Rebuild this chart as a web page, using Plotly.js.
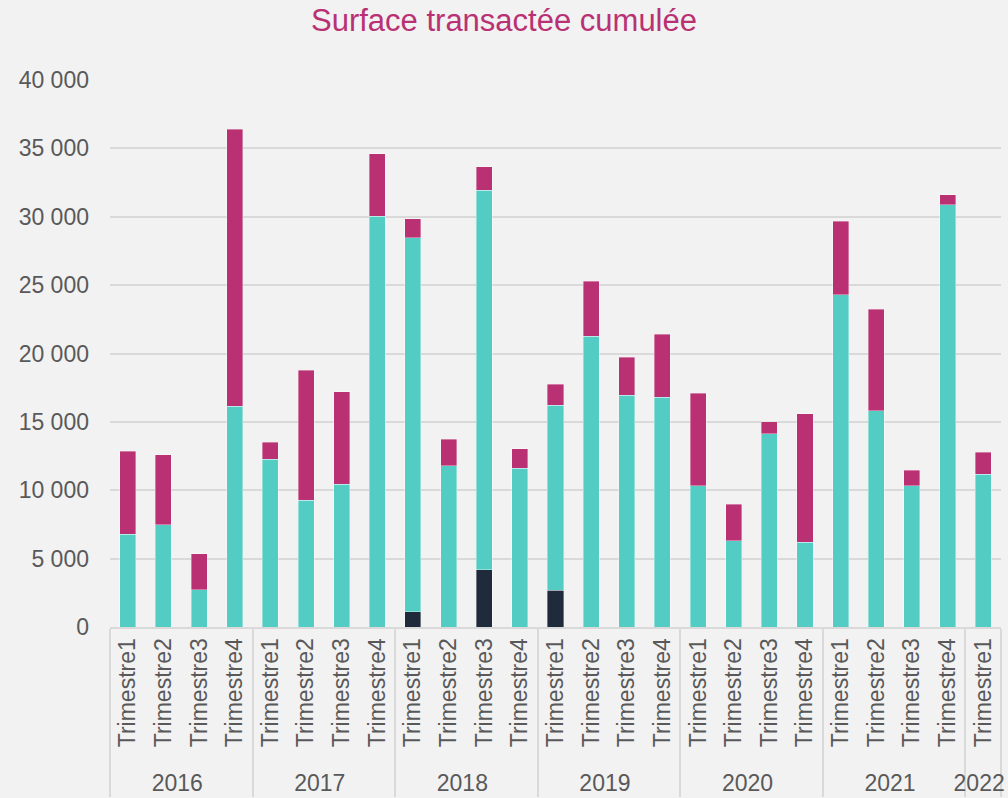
<!DOCTYPE html>
<html>
<head>
<meta charset="utf-8">
<script src="https://cdn.plot.ly/plotly-3.0.1.min.js"></script>
<style>html,body{margin:0;padding:0;background:#f2f2f2;}#chart{width:1008px;height:798px;}</style>
</head>
<body>
<div id="chart"></div>
<script>
const years = ["2016","2016","2016","2016","2017","2017","2017","2017","2018","2018","2018","2018","2019","2019","2019","2019","2020","2020","2020","2020","2021","2021","2021","2021","2022"];
const quarters = ["Trimestre1","Trimestre2","Trimestre3","Trimestre4","Trimestre1","Trimestre2","Trimestre3","Trimestre4","Trimestre1","Trimestre2","Trimestre3","Trimestre4","Trimestre1","Trimestre2","Trimestre3","Trimestre4","Trimestre1","Trimestre2","Trimestre3","Trimestre4","Trimestre1","Trimestre2","Trimestre3","Trimestre4","Trimestre1"];
const darkValues = [0,0,0,0, 0,0,0,0, 1120,0,4180,0, 2690,0,0,0, 0,0,0,0, 0,0,0,0, 0];
const tealValues = [6780,7480,2710,16150, 12280,9270,10450,30020, 27340,11810,27750,11610, 13520,21250,16940,16800, 10340,6290,14150,6200, 24290,15800,10320,30880, 11170];
const magentaValues = [6070,5120,2630,20250, 1220,9510,6750,4580, 1390,1910,1710,1420, 1540,4030,2790,4590, 6760,2690,870,9410, 5390,7420,1140,730, 1610];

const x = [years, quarters];
const lineStyle = {width:0.6, color:'rgba(255,255,255,0.6)'};
const traces = [
  {type:'bar', x:x, name:'Série 1', y:darkValues, hoverinfo:'y', marker:{color:'#1f2b3a', line:lineStyle}},
  {type:'bar', x:x, name:'Série 2', y:tealValues, hoverinfo:'y', marker:{color:'#53cdc4', line:lineStyle}},
  {type:'bar', x:x, name:'Série 3', y:magentaValues, hoverinfo:'y', marker:{color:'#b93173', line:lineStyle}}
];
const layout = {
  width:1008, height:798,
  paper_bgcolor:'#f2f2f2', plot_bgcolor:'#f2f2f2',
  barmode:'stack', bargap:0.55,
  showlegend:false,
  separators:', ',
  font:{family:'"Liberation Sans", Arial, sans-serif', color:'#595959', size:23},
  title:{text:'Surface transactée cumulée', font:{size:31, color:'#b93173'}, x:0.5, xanchor:'center', y:0.975, yanchor:'middle'},
  margin:{l:110, r:7, t:80, b:171},
  xaxis:{type:'multicategory', tickangle:-90, showline:true, linecolor:'#d9d9d9', linewidth:2,
         showdividers:true, dividercolor:'#d9d9d9', dividerwidth:1.5, tickfont:{size:23, color:'#595959'},
         ticks:'', showgrid:false},
  yaxis:{range:[0,40000], dtick:5000, tickformat:',', gridcolor:'#d9d9d9', gridwidth:2, zeroline:false,
         tickfont:{size:23, color:'#595959'}, ticklabelstandoff:20}
};
Plotly.newPlot('chart', traces, layout, {displayModeBar:false});
</script>
</body>
</html>
